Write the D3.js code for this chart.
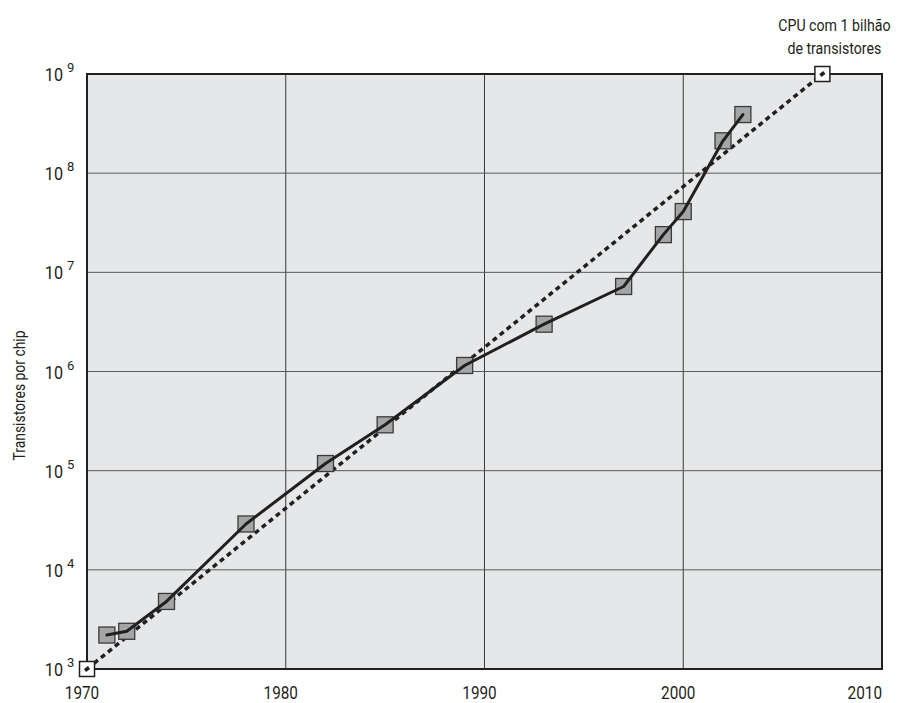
<!DOCTYPE html>
<html>
<head>
<meta charset="utf-8">
<script src="https://cdn.jsdelivr.net/npm/d3@7"></script>
<style>
  html, body { margin: 0; padding: 0; background: #fff; }
  svg text { font-family: "Roboto", "Liberation Sans", sans-serif; fill: #231f20; }
</style>
</head>
<body>
<svg id="chart" width="898" height="703"></svg>
<script>
// Processor release years and transistor counts per chip
const years = [1971, 1972, 1974, 1978, 1982, 1985, 1989, 1993, 1997, 1999, 2000, 2002, 2003];
const transistors = [2200, 2400, 4800, 29000, 118000, 290000, 1150000, 3000000, 7200000, 24000000, 41000000, 212000000, 390000000];

// Exponential trend endpoints (projection up to a one-billion-transistor CPU)
const trendYears = [1970, 2007];
const trendValues = [1000, 1000000000];

// Axis ticks
const xTicks = [1970, 1980, 1990, 2000, 2010];
const yExponents = [3, 4, 5, 6, 7, 8, 9];

const yTitle = "Transistores por chip";
const noteLines = ["CPU com 1 bilhão", "de transistores"];

const svg = d3.select("#chart");
const plotL = 87, plotR = 882, plotT = 74, plotB = 669;

const x = d3.scaleLinear().domain([1970, 2010]).range([plotL, plotR]);
const y = d3.scaleLog().domain([1e3, 1e9]).range([plotB, plotT]);

// condensed text helper: squeeze glyphs horizontally
function condense(sel, factor) {
  sel.each(function () {
    const w = this.getComputedTextLength();
    d3.select(this).attr("textLength", w * factor).attr("lengthAdjust", "spacingAndGlyphs");
  });
}

// plot background
svg.append("rect")
  .attr("x", plotL).attr("y", plotT)
  .attr("width", plotR - plotL).attr("height", plotB - plotT)
  .attr("fill", "#e6e7e8");

// grid
svg.append("g").selectAll("line").data(xTicks.slice(1, -1)).join("line")
  .attr("x1", d => x(d)).attr("x2", d => x(d))
  .attr("y1", plotT).attr("y2", plotB)
  .attr("stroke", "#3a3a3a").attr("stroke-width", 1);
svg.append("g").selectAll("line").data(yExponents.slice(1, -1)).join("line")
  .attr("x1", plotL).attr("x2", plotR)
  .attr("y1", d => y(Math.pow(10, d))).attr("y2", d => y(Math.pow(10, d)))
  .attr("stroke", "#5a5a5a").attr("stroke-width", 1);

// x tick labels
svg.append("g").selectAll("text").data(xTicks).join("text")
  .attr("x", (d, i) => i === xTicks.length - 1 ? x(d) : x(d) - 5)
  .attr("y", 699)
  .attr("text-anchor", (d, i) => i === xTicks.length - 1 ? "end" : "middle")
  .attr("font-size", 18)
  .text(d => d)
  .call(condense, 0.85);

// y tick labels: 10 with superscript exponent
const yLab = svg.append("g").selectAll("g").data(yExponents).join("g")
  .attr("transform", d => `translate(0,${y(Math.pow(10, d))})`);
yLab.append("text")
  .attr("x", 63).attr("y", 7)
  .attr("text-anchor", "end")
  .attr("font-size", 19)
  .text("10")
  .call(condense, 0.85);
yLab.append("text")
  .attr("x", 67).attr("y", -2)
  .attr("font-size", 13)
  .text(d => d);

// y axis title
svg.append("text")
  .attr("transform", `translate(25,${(plotT + plotB) / 2 + 24}) rotate(-90)`)
  .attr("text-anchor", "middle")
  .attr("font-size", 17)
  .text(yTitle)
  .attr("textLength", 130)
  .attr("lengthAdjust", "spacingAndGlyphs");

// trend line (dotted)
const trend = trendYears.map((t, i) => [t, trendValues[i]]);
svg.append("path")
  .datum(trend)
  .attr("d", d3.line().x(d => x(d[0])).y(d => y(d[1])))
  .attr("fill", "none")
  .attr("stroke", "#231f20")
  .attr("stroke-width", 3.5)
  .attr("stroke-dasharray", "5,4");

// data markers
const data = years.map((t, i) => [t, transistors[i]]);
const s = 16;
svg.append("g").selectAll("rect").data(data).join("rect")
  .attr("x", d => x(d[0]) - s / 2).attr("y", d => y(d[1]) - s / 2)
  .attr("width", s).attr("height", s)
  .attr("fill", "#a4a5a7")
  .attr("stroke", "#3a3a3a")
  .attr("stroke-width", 1.3);

// measured data line over the markers
svg.append("path")
  .datum(data)
  .attr("d", d3.line().x(d => x(d[0])).y(d => y(d[1])))
  .attr("fill", "none")
  .attr("stroke", "#231f20")
  .attr("stroke-width", 3)
  .attr("stroke-linejoin", "round")
  .attr("stroke-linecap", "round");

// frame
svg.append("rect")
  .attr("x", plotL).attr("y", plotT)
  .attr("width", plotR - plotL).attr("height", plotB - plotT)
  .attr("fill", "none")
  .attr("stroke", "#231f20").attr("stroke-width", 2);

// open markers at the trend endpoints
const o = 15;
svg.append("g").selectAll("rect").data(trend).join("rect")
  .attr("x", d => x(d[0]) - o / 2).attr("y", d => y(d[1]) - o / 2)
  .attr("width", o).attr("height", o)
  .attr("fill", "#fff")
  .attr("stroke", "#231f20")
  .attr("stroke-width", 1.5);
svg.append("g").selectAll("line").data(trend).join("line")
  .attr("x1", d => x(d[0]) - 2).attr("y1", d => y(d[1]) + 1.5)
  .attr("x2", d => x(d[0]) + 2).attr("y2", d => y(d[1]) - 1.5)
  .attr("stroke", "#231f20").attr("stroke-width", 3.5);

// annotation for the one-billion point, horizontally condensed
svg.append("g")
  .attr("transform", `translate(${x(trendYears[1]) + 12},0) scale(0.86,1)`)
  .selectAll("text").data(noteLines).join("text")
  .attr("x", 0)
  .attr("y", (d, i) => 31 + i * 23)
  .attr("text-anchor", "middle")
  .attr("font-size", 16.5)
  .text(d => d);
</script>
</body>
</html>
